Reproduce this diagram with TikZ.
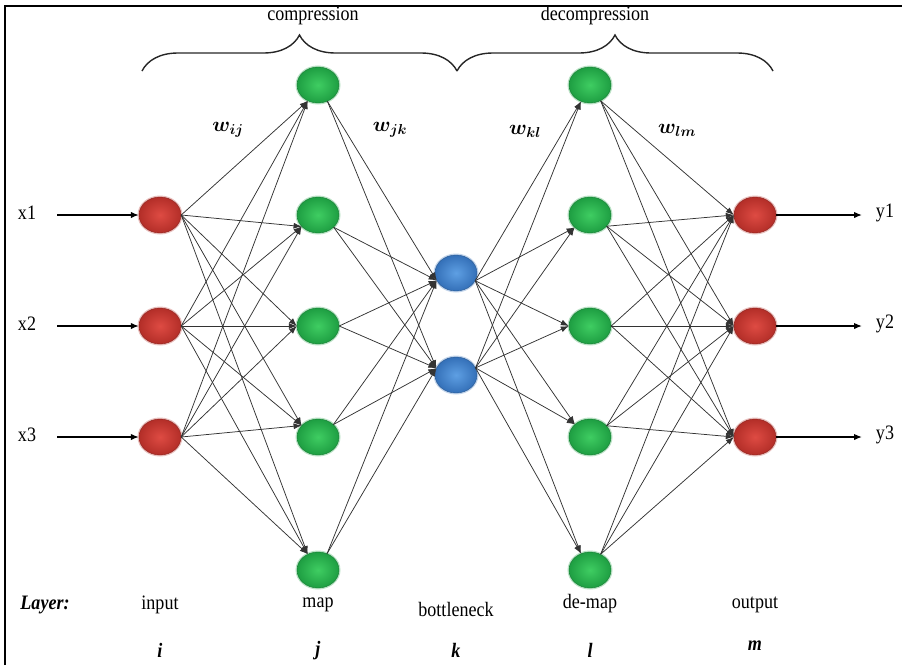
\documentclass[tikz,border=0pt]{standalone}
\usepackage{fontspec}
\setmainfont{Liberation Serif}[FakeStretch=0.88]
\usetikzlibrary{arrows.meta,decorations.pathreplacing,shapes.geometric}

\definecolor{redin}{HTML}{DE4B43}
\definecolor{redout}{HTML}{B32E28}
\definecolor{greenin}{HTML}{3FCD62}
\definecolor{greenout}{HTML}{1E9E42}
\definecolor{bluein}{HTML}{5E9FE3}
\definecolor{blueout}{HTML}{3470B8}

\begin{document}
\begin{tikzpicture}[x=1pt,y=-1pt,
  neuron/.style={ellipse, minimum width=42pt, minimum height=36pt, inner sep=0pt},
  redn/.style={neuron, inner color=redin, outer color=redout, draw=redout!80!black, line width=0.4pt,
    preaction={draw=redout!30, line width=3pt}},
  greenn/.style={neuron, inner color=greenin, outer color=greenout, draw=greenout!80!black, line width=0.4pt,
    preaction={draw=greenout!30, line width=3pt}},
  bluen/.style={neuron, inner color=bluein, outer color=blueout, draw=blueout!80!black, line width=0.4pt,
    preaction={draw=blueout!30, line width=3pt}},
  link/.style={draw=black!80, line width=0.75pt, -{Latex[length=8pt,width=6pt]}},
  ioarrow/.style={draw=black, line width=1.4pt, -{Latex[length=8pt,width=6.5pt]}},
  txt/.style={font=\fontsize{20.5}{24}\selectfont, inner sep=0pt},
  idx/.style={font=\fontsize{20.5}{24}\selectfont\bfseries\itshape, inner sep=0pt},
  wlab/.style={font=\fontsize{21}{24}\selectfont\boldmath, inner sep=0pt},
  bracepath/.style={draw=black!85, line width=1.4pt, decorate, decoration={brace, amplitude=36pt}}
]
\useasboundingbox (0,0) rectangle (902,665);

% frame
\draw[line width=1.8pt] (5,665) -- (5,6) -- (902,6);

% layers
\foreach \n/\y in {1/215,2/326,3/437} \node[redn] (i\n) at (160,\y) {};
\foreach \n/\y in {1/85,2/215,3/326,4/437,5/570} \node[greenn] (j\n) at (318,\y) {};
\foreach \n/\y in {1/273,2/375} \node[bluen] (k\n) at (456,\y) {};
\foreach \n/\y in {1/85,2/215,3/326,4/437,5/570} \node[greenn] (l\n) at (590,\y) {};
\foreach \n/\y in {1/215,2/326,3/437} \node[redn] (m\n) at (755,\y) {};

% weights: input -> map
\foreach \a in {1,2,3}
  \foreach \b/\tb in {1/237,2/215,3/180,4/145,5/123}
    \draw[link] (i\a.east) -- (j\b.\tb);
% map -> bottleneck
\foreach \a/\sa in {1/300,2/322,3/0,4/39,5/61}
  \foreach \b/\tb in {1/201,2/161}
    \draw[link] (j\a.\sa) -- (k\b.\tb);
% bottleneck -> de-map
\foreach \a/\sa in {1/338,2/20}
  \foreach \b/\tb in {1/241,2/219,3/180,4/140,5/119}
    \draw[link] (k\a.\sa) -- (l\b.\tb);
% de-map -> output
\foreach \a/\sa in {1/304,2/326,3/0,4/34,5/56}
  \foreach \b in {1,2,3}
    \draw[link] (l\a.\sa) -- (m\b.west);

% inputs and outputs
\foreach \n/\y in {1/215,2/326,3/437} {
  \node[txt] (x\n) at (27,\y-2) {x\n};
  \coordinate (s\n) at (57,\y);
  \draw[ioarrow] (s\n) -- (i\n.west);
  \node[txt] (y\n) at (885,\y-2) {y\n};
  \coordinate (e\n) at (862,\y);
  \draw[ioarrow] (m\n.east) -- (e\n);
}

% braces
\coordinate (bl) at (142,71);
\coordinate (bm) at (457,71);
\coordinate (br) at (773,71);
\draw[bracepath] (bl) -- (bm);
\draw[bracepath] (bm) -- (br);
\node[txt] (comp) at (313,16) {compression};
\node[txt] (decomp) at (595,16) {decompression};

% weight labels
\node[wlab] (wij) at (228,130) {$w_{ij}$};
\node[wlab] (wjk) at (390,130) {$w_{jk}$};
\node[wlab] (wkl) at (525,131) {$w_{kl}$};
\node[wlab] (wlm) at (677,130) {$w_{lm}$};

% layer names
\node[idx] (layer) at (45,605) {Layer:};
\node[txt] (tin) at (160,605) {input};
\node[txt] (tmap) at (318,605) {map};
\node[txt] (tbn) at (456,609) {bottleneck};
\node[txt] (tdm) at (590,604) {de-map};
\node[txt] (tout) at (755,605) {output};

\node[idx] (ii) at (160,650) {i};
\node[idx] (ij) at (318,651) {j};
\node[idx] (ik) at (456,650) {k};
\node[idx] (il) at (590,650) {l};
\node[idx] (im) at (755,646) {m};
\end{tikzpicture}
\end{document}
